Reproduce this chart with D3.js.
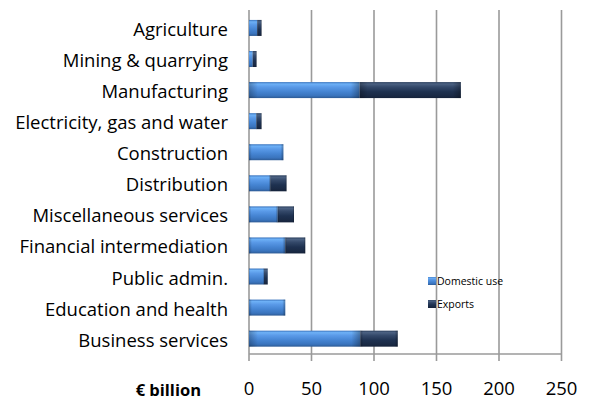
<!DOCTYPE html>
<html lang="en">
<head>
  <meta charset="UTF-8" />
  <title>Domestic use and exports by sector</title>
  <script src="https://d3js.org/d3.v7.min.js"></script>
  <style>
    body { margin: 0; background: #fff; font-family: "Open Sans", Lato, sans-serif; }
    .cat text { font-size: 18.5px; fill: #000; }
    .tick-label { font-size: 18.5px; fill: #000; }
    .legend text { font-size: 10.5px; fill: #000; }
  </style>
</head>
<body>
  <svg width="595" height="401"></svg>

  <script>
    // data (€ billion)
    const sectors = ["Agriculture", "Mining & quarrying", "Manufacturing", "Electricity, gas and water",
      "Construction", "Distribution", "Miscellaneous services", "Financial intermediation",
      "Public admin.", "Education and health", "Business services"];
    const domestic = [6.5, 3, 88.5, 6, 27.5, 17, 23, 29, 12, 29, 89];
    const exports = [3.5, 3, 81, 4, 0, 13, 13, 16, 3, 0, 30];
    const ticks = [0, 50, 100, 150, 200, 250];
    const seriesNames = ["Domestic use", "Exports"];

    const svg = d3.select("svg");
    const plotLeft = 249, plotRight = 561.5, plotTop = 10, plotBottom = 354;

    const x = d3.scaleLinear().domain([0, 250]).range([plotLeft, plotRight]);
    const y = d3.scaleBand().domain(sectors).range([12.4, 354.2]).paddingInner(0.485).paddingOuter(0.2425);

    const defs = svg.append("defs");
    function grad(id, stops) {
      const g = defs.append("linearGradient").attr("id", id)
        .attr("x1", 0).attr("y1", 0).attr("x2", 0).attr("y2", 1);
      stops.forEach(s => g.append("stop").attr("offset", s[0]).attr("stop-color", s[1]));
    }
    grad("gDom", [[0, "#3a74bd"], [0.12, "#6db0f6"], [0.3, "#5a9ae8"], [0.6, "#4584d2"], [0.85, "#3a74bd"], [1, "#2d5a94"]]);
    grad("gExp", [[0, "#2c405e"], [0.12, "#4b6182"], [0.3, "#34496a"], [0.6, "#1e3150"], [0.85, "#1a2a45"], [1, "#15223a"]]);
    const edge = defs.append("linearGradient").attr("id", "gEdge")
      .attr("x1", 0).attr("y1", 0).attr("x2", 1).attr("y2", 0);
    [[0, 0.25], [0.08, 0], [0.92, 0], [1, 0.3]].forEach(s =>
      edge.append("stop").attr("offset", s[0]).attr("stop-color", "#000").attr("stop-opacity", s[1]));

    // gridlines
    svg.append("g").selectAll("line")
      .data(ticks)
      .join("line")
        .attr("x1", d => x(d)).attr("x2", d => x(d))
        .attr("y1", plotTop).attr("y2", plotBottom + 7)
        .attr("stroke", "#9a9a9a").attr("stroke-width", 1.6);
    svg.append("line")
      .attr("x1", plotLeft).attr("x2", plotRight).attr("y1", plotBottom).attr("y2", plotBottom)
      .attr("stroke", "#9a9a9a").attr("stroke-width", 1.6);

    // bars
    const stacked = sectors.map((s, i) => [
      { s, x0: 0, x1: domestic[i], fill: "url(#gDom)" },
      { s, x0: domestic[i], x1: domestic[i] + exports[i], fill: "url(#gExp)" }
    ]).flat().filter(d => d.x1 > d.x0);

    const bar = svg.append("g").selectAll("g")
      .data(stacked)
      .join("g");
    bar.append("rect")
      .attr("x", d => x(d.x0)).attr("y", d => y(d.s))
      .attr("width", d => x(d.x1) - x(d.x0)).attr("height", y.bandwidth())
      .attr("fill", d => d.fill);
    bar.append("rect")
      .attr("x", d => x(d.x0)).attr("y", d => y(d.s))
      .attr("width", d => x(d.x1) - x(d.x0)).attr("height", y.bandwidth())
      .attr("fill", "url(#gEdge)");

    // category labels (baseline sits a little under the bar centre, as in the original)
    svg.append("g").attr("class", "cat").selectAll("text")
      .data(sectors)
      .join("text")
        .attr("x", 228)
        .attr("y", d => y(d) + y.bandwidth() / 2 + 8)
        .attr("text-anchor", "end")
        .text(d => d);

    // tick labels
    svg.append("g").selectAll("text")
      .data(ticks)
      .join("text")
        .attr("class", "tick-label")
        .attr("x", d => x(d))
        .attr("y", 395)
        .attr("text-anchor", "middle")
        .text(d => d);

    svg.append("text")
      .attr("x", 201).attr("y", 396)
      .attr("text-anchor", "end")
      .style("font-size", "16.5px").style("font-weight", "bold")
      .text("€ billion");

    // legend
    const legend = svg.append("g").attr("class", "legend");
    seriesNames.forEach((n, i) => {
      const ly = 281 + i * 23;
      legend.append("rect")
        .attr("x", 428).attr("y", ly - 4).attr("width", 8).attr("height", 8)
        .attr("fill", i === 0 ? "url(#gDom)" : "url(#gExp)");
      legend.append("text")
        .attr("x", 437).attr("y", ly).attr("dy", "0.35em")
        .text(n);
    });
  </script>
</body>
</html>
